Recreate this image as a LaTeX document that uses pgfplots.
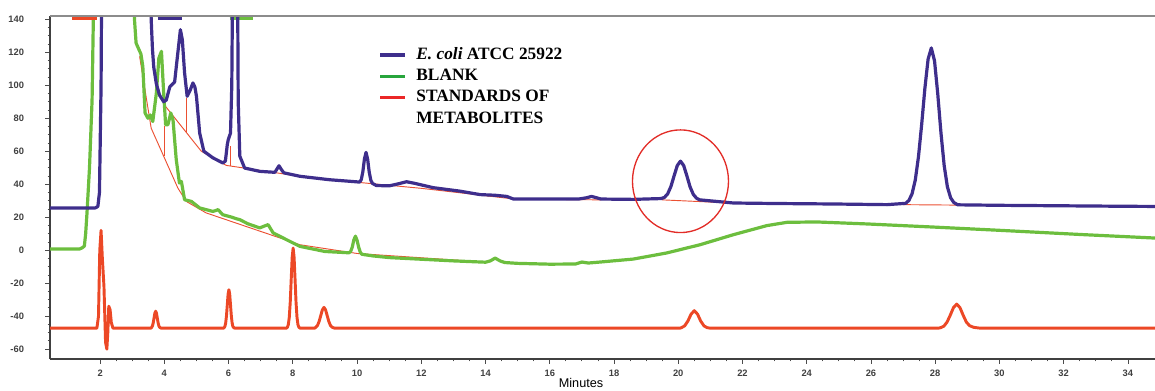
\documentclass[border=0pt]{standalone}
\usepackage{pgfplots}
\pgfplotsset{compat=1.18}
\usepackage{fontspec}
\setmainfont{Liberation Serif}
\newfontfamily\lsans{Liberation Sans}
\definecolor{cblue}{RGB}{62,46,140}
\definecolor{cgreen}{RGB}{108,190,62}
\definecolor{cred}{RGB}{236,72,38}
\definecolor{lgreen}{RGB}{40,165,60}
\definecolor{lred}{RGB}{235,40,40}
\definecolor{circred}{RGB}{226,45,40}
\definecolor{thinred}{RGB}{235,80,50}
\begin{document}
\begin{tikzpicture}
\useasboundingbox (0,0) rectangle (866.25pt,292.5pt);
\begin{axis}[
  at={(37.5pt,23.25pt)}, anchor=south west,
  scale only axis, width=832.5pt, height=257.25pt,
  xmin=0.44, xmax=35, ymin=-66, ymax=142,
  axis x line*=bottom, axis y line*=left,
  xtick={2,4,...,34}, ytick={-60,-40,...,140},
  minor x tick num=3, minor y tick num=3,
  tick align=outside, major tick length=3.5pt, minor tick length=1.8pt,
  tick style={black!70, line width=0.6pt},
  axis line style={black!75, line width=1pt},
  /pgf/number format/assume math mode=true,
  ticklabel style={font=\lsans\bfseries\fontsize{7}{8}\selectfont, text=black!75},
  yticklabel style={xshift=-12.5pt},
  xticklabel style={yshift=-1pt},
  xlabel={Minutes},
  xlabel style={font=\lsans\fontsize{9.5}{10}\selectfont, at={(axis description cs:0.4784,0)}, anchor=center, yshift=-18pt},
  legend cell align=left,
  legend image code/.code={\draw[#1] (0pt,0pt) -- (19pt,0pt);},
  legend style={at={(axis cs:10.66,123.2)}, anchor=north west, draw=none, fill=none,
    inner sep=0pt, row sep=4.3pt,
    font=\bfseries\fontsize{13}{15}\selectfont,
    nodes={inner sep=0pt, text height=9pt, text depth=2.7pt},
    /tikz/every odd column/.append style={column sep=7pt}},
  line join=round,
]
\addlegendimage{cblue, line width=2.4pt}
\addlegendentry{\textit{E. coli} ATCC 25922}
\addlegendimage{lgreen, line width=2.4pt}
\addlegendentry{BLANK}
\addlegendimage{lred, line width=2.4pt}
\addlegendentry{STANDARDS OF}
\addlegendimage{empty legend}
\addlegendentry{METABOLITES}

% integration baselines (thin)
\addplot[forget plot, thinred, line width=0.7pt] coordinates {(3.23,117.5) (3.59,74) (4.42,37.7) (4.68,29.6) (5.3,22.6) (8.22,3.3) (10,-2) (13.83,-7)};
\addplot[forget plot, thinred, line width=0.7pt] coordinates {(3.98,88.6) (5.15,60) (5.93,51.4) (8.22,44.8) (10.1,41) (12,37.5) (14.9,31) (17.6,30.5)};
\addplot[forget plot, thinred, line width=0.7pt] coordinates {(19.5,30.5) (21.2,29)};
\addplot[forget plot, thinred, line width=0.7pt] coordinates {(27.0,27.6) (29.5,27.2)};
\addplot[forget plot, thinred, line width=0.7pt] coordinates {(4.0,75) (4.0,57)};
\addplot[forget plot, thinred, line width=0.7pt] coordinates {(4.68,92) (4.68,71.5)};
\addplot[forget plot, thinred, line width=0.7pt] coordinates {(6.07,63) (6.07,51)};

% BLANK
\addplot[forget plot, cgreen, line width=2.4pt] coordinates {
(0.44,0.7) (1.36,0.7) (1.45,1.5) (1.51,2.5) (1.55,10) (1.59,22) (1.67,50) (1.75,91) (1.79,141) (1.82,200)
(3.03,200) (3.07,140) (3.12,125.6) (3.21,121.6) (3.27,119) (3.33,111.5) (3.4,83.2) (3.49,80) (3.56,82) (3.64,78)
(3.75,95) (3.83,116.5) (3.91,120.6) (3.98,95) (4.04,76) (4.11,76) (4.2,83.2) (4.27,79) (4.37,55) (4.47,40.7)
(4.53,41.7) (4.63,30.6) (4.84,29.6) (5.1,25.6) (5.51,23.5) (5.6,24) (5.67,24.6) (5.82,21.5) (6.1,20) (6.25,19)
(6.35,18.5) (6.6,16) (6.97,13.5) (7.1,14.5) (7.23,15.5) (7.39,10.4) (7.8,6.4) (8.22,2.3) (9.0,-0.8) (9.75,-1.6)
(9.8,-0.8) (9.85,1.8) (9.9,6.2) (9.95,8.5) (10.0,6) (10.05,1.8) (10.1,-1.2) (10.15,-2.5) (10.5,-3.5) (11,-4.5)
(12,-5.5) (13,-6.5) (14,-7.3) (14.15,-6.5) (14.3,-4.8) (14.45,-6.5) (14.6,-7.5) (15,-8) (16,-8.5) (16.8,-8.4)
(17.0,-7.2) (17.2,-7.8) (17.57,-7.2) (18.6,-5.4) (19.64,-1.7) (20.68,3.3) (21.72,9.4) (22.76,14.9) (23.39,16.9)
(24.32,17.1) (25.88,15.9) (27.96,14) (30.04,12) (32.63,9.4) (35,7.2)};
\addplot[forget plot, cgreen, line width=2.4pt] coordinates {(6.03,140.5) (6.75,140.5)};

% STANDARDS
\addplot[forget plot, cred, line width=2.2pt] coordinates {
(0.44,-47.3) (1.9,-47.3) (1.95,-40) (1.99,0) (2.03,12) (2.07,-5) (2.12,-22) (2.17,-56) (2.21,-60) (2.24,-50)
(2.27,-34) (2.31,-36) (2.35,-44) (2.4,-47.3) (3.58,-47.3)
(3.605,-46.8) (3.63,-45.9) (3.655,-44.0) (3.68,-41.1) (3.705,-38.2) (3.73,-37) (3.755,-38.2) (3.78,-41.1) (3.805,-44.0) (3.83,-45.9) (3.855,-46.8) (3.9,-47.3)
(5.84,-47.3) (5.86,-47.0) (5.885,-46.3) (5.91,-44.1) (5.935,-39.7) (5.96,-33.2) (5.985,-26.7) (6.01,-24) (6.035,-26.7) (6.06,-33.2) (6.085,-39.7) (6.11,-44.1) (6.135,-46.3) (6.16,-47.0) (6.2,-47.3)
(7.8,-47.3) (7.83,-46.8) (7.86,-45.2) (7.89,-40.7) (7.92,-31.5) (7.95,-17.8) (7.98,-4.4) (8.01,1.3) (8.04,-4.4) (8.07,-17.8) (8.10,-31.5) (8.13,-40.7) (8.16,-45.2) (8.19,-46.8) (8.23,-47.3)
(8.68,-47.3) (8.72,-46.7) (8.77,-45.6) (8.82,-43.2) (8.87,-39.7) (8.92,-36.2) (8.97,-34.7) (9.02,-36.2) (9.07,-39.7) (9.12,-43.2) (9.17,-45.6) (9.22,-46.7) (9.3,-47.3)
(20.05,-47.3) (20.1,-47.0) (20.2,-45.9) (20.3,-43) (20.4,-38.8) (20.5,-36.7) (20.6,-38.8) (20.7,-43) (20.8,-45.9) (20.9,-47.0) (21.0,-47.3)
(28.1,-47.3) (28.17,-47.0) (28.27,-46.1) (28.37,-43.6) (28.47,-39.4) (28.57,-34.8) (28.67,-32.7) (28.77,-34.8) (28.87,-39.4) (28.97,-43.6) (29.07,-45.8) (29.2,-46.8) (29.4,-47.3)
(35,-47.3)};
\addplot[forget plot, cred, line width=2.2pt] coordinates {(1.14,140.5) (1.89,140.5)};

% E. coli
\addplot[forget plot, cblue, line width=2.4pt] coordinates {
(0.44,25.6) (1.85,25.6) (1.93,26.5) (1.98,35) (2.03,100) (2.06,200) (3.55,200) (3.59,140) (3.63,122) (3.67,111)
(3.75,101) (3.85,94) (3.98,90) (4.06,91) (4.17,99) (4.32,102) (4.42,119.6) (4.5,133.7) (4.56,127.6) (4.63,107.5)
(4.71,93.3) (4.81,97.3) (4.89,101.4) (4.95,99) (5.0,93.3) (5.1,71) (5.23,60) (5.51,56) (5.82,52.9) (5.9,54)
(5.96,64) (5.99,67) (6.06,71) (6.1,100) (6.14,200) (6.27,200) (6.3,90) (6.35,57) (6.5,49.8) (6.97,47.8)
(7.44,47.2) (7.5,49) (7.57,51.2) (7.64,49) (7.72,46.9) (8.22,44.8) (9.15,42.7) (10.08,41.3) (10.13,42.7) (10.18,47.5)
(10.23,55.3) (10.28,59.3) (10.33,55.1) (10.38,47.2) (10.43,42.3) (10.48,40.5) (10.6,39.2) (11.0,39) (11.3,40.3) (11.54,41.5)
(11.8,40.5) (12.37,37.9) (13.2,35.8) (13.83,33.7) (14.3,33.3) (14.66,32.6) (14.87,31) (15.8,31) (16.9,31) (17.15,31.8)
(17.3,32.6) (17.45,31.8) (17.6,31) (18.6,30.8) (19.47,31.3) (19.57,32.0) (19.67,34.1) (19.77,38.5) (19.87,45.0) (19.97,51.3)
(20.07,54) (20.17,51.3) (20.27,45.0) (20.37,38.3) (20.47,33.8) (20.57,31.5) (20.67,30.5) (21.72,28.6) (23,28.3) (24.84,28)
(26.5,27.6) (27.08,28.4) (27.18,30.1) (27.28,34.2) (27.38,42.5) (27.48,56.7) (27.58,76.4) (27.68,98.3) (27.78,115.9) (27.88,122.6)
(27.98,114.7) (28.08,94.8) (28.18,71.1) (28.28,51.3) (28.38,38.4) (28.48,31.8) (28.58,28.9) (28.7,27.5) (30,27.2) (32,26.9)
(34,26.6) (35,26.5)};
\addplot[forget plot, cblue, line width=2.4pt] coordinates {(3.79,140.5) (4.54,140.5)};

\draw[circred, line width=1pt] (axis cs:20.07,41.8) ellipse [x radius=36pt, y radius=38.5pt];
\draw[black!45, line width=1.2pt] (rel axis cs:0,1) -- (rel axis cs:1,1);
\end{axis}
\end{tikzpicture}
\end{document}
